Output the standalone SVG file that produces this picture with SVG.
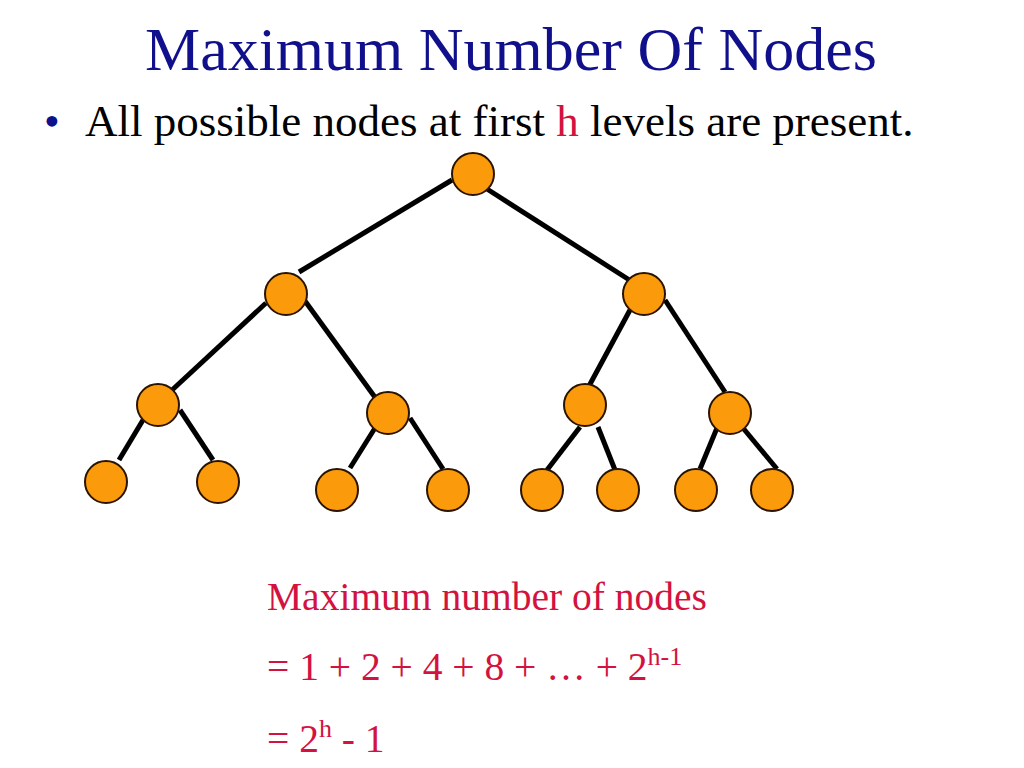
<svg xmlns="http://www.w3.org/2000/svg" width="1024" height="768" viewBox="0 0 1024 768">
<style>
.title{font-family:"Liberation Serif","Times New Roman",serif;font-size:62px;fill:#10108c}
.bullet{font-family:"Liberation Serif","Times New Roman",serif;font-size:45px;fill:#000}
.red{font-family:"Liberation Serif","Times New Roman",serif;font-size:39.5px;fill:#d3123f}
.node{fill:#fb9b0c;stroke:#2a1400;stroke-width:2}
.edge{stroke:#000;stroke-width:5;stroke-linecap:butt;fill:none}
</style>
<rect width="1024" height="768" fill="#fff"/>
<text class="title" x="145" y="70">Maximum Number Of Nodes</text>
<text class="bullet" x="44" y="136"><tspan fill="#10108c">•</tspan></text>
<text class="bullet" x="85" y="136">All possible nodes at first <tspan fill="#d3123f">h</tspan> levels are present.</text>
<g id="connectors">
<line class="edge" x1="452" y1="180" x2="299" y2="272"/>
<line class="edge" x1="487" y1="189" x2="631" y2="281"/>
<line class="edge" x1="266" y1="303" x2="171" y2="391"/>
<line class="edge" x1="305" y1="301" x2="377" y2="400"/>
<line class="edge" x1="630" y1="310" x2="589" y2="386"/>
<line class="edge" x1="665" y1="300" x2="725" y2="392"/>
<line class="edge" x1="143" y1="420" x2="119" y2="460"/>
<line class="edge" x1="180" y1="410" x2="213" y2="460"/>
<line class="edge" x1="375" y1="428" x2="350" y2="468"/>
<line class="edge" x1="410" y1="418" x2="443" y2="469"/>
<line class="edge" x1="580" y1="427" x2="547" y2="470"/>
<line class="edge" x1="598" y1="427" x2="615" y2="470"/>
<line class="edge" x1="717" y1="428" x2="700" y2="469"/>
<line class="edge" x1="743" y1="428" x2="777" y2="469"/>
</g>
<g id="n1"><circle class="node" cx="473" cy="174" r="21"/></g>
<g id="n2"><circle class="node" cx="286" cy="294" r="21"/></g>
<g id="n3"><circle class="node" cx="644" cy="294" r="21"/></g>
<g id="n4"><circle class="node" cx="158" cy="405" r="21"/></g>
<g id="n5"><circle class="node" cx="388" cy="413" r="21"/></g>
<g id="n6"><circle class="node" cx="585" cy="405" r="21"/></g>
<g id="n7"><circle class="node" cx="730" cy="413" r="21"/></g>
<g id="n8"><circle class="node" cx="106" cy="482" r="21"/></g>
<g id="n9"><circle class="node" cx="218" cy="482" r="21"/></g>
<g id="n10"><circle class="node" cx="337" cy="490" r="21"/></g>
<g id="n11"><circle class="node" cx="448" cy="490" r="21"/></g>
<g id="n12"><circle class="node" cx="542" cy="490" r="21"/></g>
<g id="n13"><circle class="node" cx="618" cy="490" r="21"/></g>
<g id="n14"><circle class="node" cx="696" cy="490" r="21"/></g>
<g id="n15"><circle class="node" cx="772" cy="490" r="21"/></g>
<text class="red" x="267" y="610">Maximum number of nodes</text>
<text class="red" x="267" y="680">= 1 + 2 + 4 + 8 + … + 2<tspan font-size="26" dy="-15">h-1</tspan></text>
<text class="red" x="267" y="752">= 2<tspan font-size="26" dy="-15">h</tspan><tspan dy="15"> - 1</tspan></text>
</svg>
